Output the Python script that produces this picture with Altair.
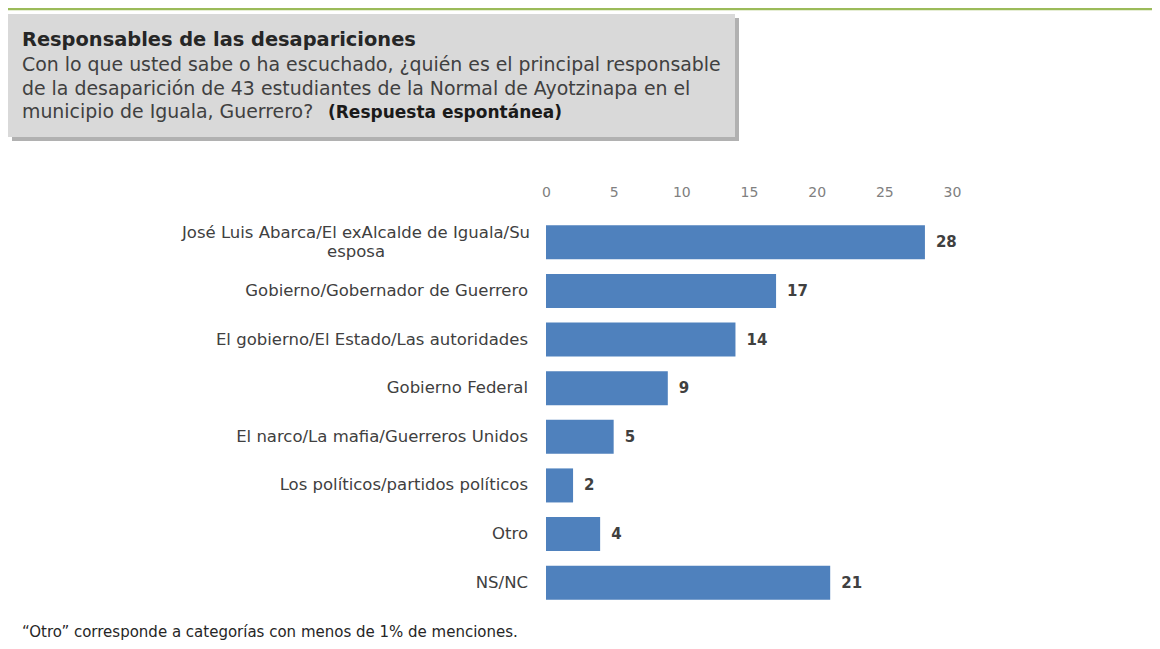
import altair as alt
import pandas as pd

# ---- data ----
categories = [
    "José Luis Abarca/El exAlcalde de Iguala/Su esposa",
    "Gobierno/Gobernador de Guerrero",
    "El gobierno/El Estado/Las autoridades",
    "Gobierno Federal",
    "El narco/La mafia/Guerreros Unidos",
    "Los políticos/partidos políticos",
    "Otro",
    "NS/NC",
]
display_labels = [
    "José Luis Abarca/El exAlcalde de Iguala/Su\nesposa",
    "Gobierno/Gobernador de Guerrero",
    "El gobierno/El Estado/Las autoridades",
    "Gobierno Federal",
    "El narco/La mafia/Guerreros Unidos",
    "Los políticos/partidos políticos",
    "Otro",
    "NS/NC",
]
values = [28, 17, 14, 9, 5, 2, 4, 21]
tick_values = [0, 5, 10, 15, 20, 25, 30]

title_text = "Responsables de las desapariciones"
subtitle_lines = [
    "Con lo que usted sabe o ha escuchado, ¿quién es el principal responsable",
    "de la desaparición de 43 estudiantes de la Normal de Ayotzinapa en el",
    "municipio de Iguala, Guerrero?",
]
subtitle_bold = "(Respuesta espontánea)"
footnote = "\u201cOtro\u201d corresponde a categorías con menos de 1% de menciones."

df = pd.DataFrame({"cat": categories, "label": display_labels, "value": values})
dec = pd.DataFrame({"k": [0]})

FONT = "DejaVu Sans"
BAR = "#4F81BD"
TXT = "#404040"
LBL = 16.5

y_enc = alt.Y("cat:N", sort=categories, axis=None,
              scale=alt.Scale(paddingInner=0.3, paddingOuter=0.15))
x_enc = alt.X("value:Q",
              scale=alt.Scale(domain=[0, 30], nice=False),
              axis=alt.Axis(orient="top", values=tick_values, grid=False, domain=False,
                            ticks=False, tickSize=0, labelPadding=19, title=None,
                            labelFlush=False,
                            labelColor="#808080", labelFont=FONT, labelFontSize=14))

base = alt.Chart(df)

bars = base.mark_bar(color=BAR).encode(x=x_enc, y=y_enc)

vals = base.mark_text(align="left", baseline="middle", dx=11, font=FONT,
                      fontSize=15, fontWeight="bold", color=TXT).encode(
    x=alt.X("value:Q"), y=y_enc, text=alt.Text("value:Q"))

labels_rest = base.transform_filter(
    alt.datum.cat != categories[0]
).mark_text(align="right", baseline="middle", font=FONT, fontSize=LBL, color=TXT).encode(
    x=alt.value(-18), y=y_enc, text="label:N")

labels_first = base.transform_filter(
    alt.datum.cat == categories[0]
).mark_text(align="center", baseline="middle", font=FONT, fontSize=LBL, color=TXT,
            lineBreak="\n", lineHeight=19.4, dy=-9.7).encode(
    x=alt.value(-190), y=y_enc, text="label:N")

d = alt.Chart(dec)

green_line = d.mark_rule(color="#9BBB59", strokeWidth=2.5).encode(
    x=alt.value(-538), x2=alt.value(606), y=alt.value(-209))

shadow = d.mark_rect(color="#A3A3A3", opacity=0.85).encode(
    x=alt.value(-534), x2=alt.value(193), y=alt.value(-200), y2=alt.value(-77))
box = d.mark_rect(color="#D9D9D9").encode(
    x=alt.value(-538), x2=alt.value(189), y=alt.value(-204), y2=alt.value(-81))

title_mark = d.mark_text(align="left", baseline="alphabetic", font=FONT, fontSize=19.4,
                         fontWeight="bold", color="#262626").encode(
    x=alt.value(-524), y=alt.value(-172), text=alt.value(title_text))

SUB = 18.9
sub_marks = []
for i, line in enumerate(subtitle_lines):
    sub_marks.append(
        d.mark_text(align="left", baseline="alphabetic", font=FONT, fontSize=SUB,
                    color=TXT).encode(
            x=alt.value(-524), y=alt.value(-147 + 23.5 * i), text=alt.value(line)))
sub_bold = d.mark_text(align="left", baseline="alphabetic", font=FONT, fontSize=17,
                       fontWeight="bold", color="#1a1a1a").encode(
    x=alt.value(-218), y=alt.value(-100), text=alt.value(subtitle_bold))

foot = d.mark_text(align="left", baseline="alphabetic", font=FONT, fontSize=15,
                   color="#262626").encode(
    x=alt.value(-524), y=alt.value(419), text=alt.value(footnote))

chart = alt.layer(
    green_line, shadow, box, title_mark, *sub_marks, sub_bold,
    bars, vals, labels_rest, labels_first, foot
).properties(
    width=406, height=389,
    autosize=alt.AutoSizeParams(type="none"),
    padding={"left": 538, "top": 210, "right": 200, "bottom": 34},
    background="white",
).configure_view(stroke=None)

chart.save("out.html", embed_options={"renderer": "svg", "actions": False})
